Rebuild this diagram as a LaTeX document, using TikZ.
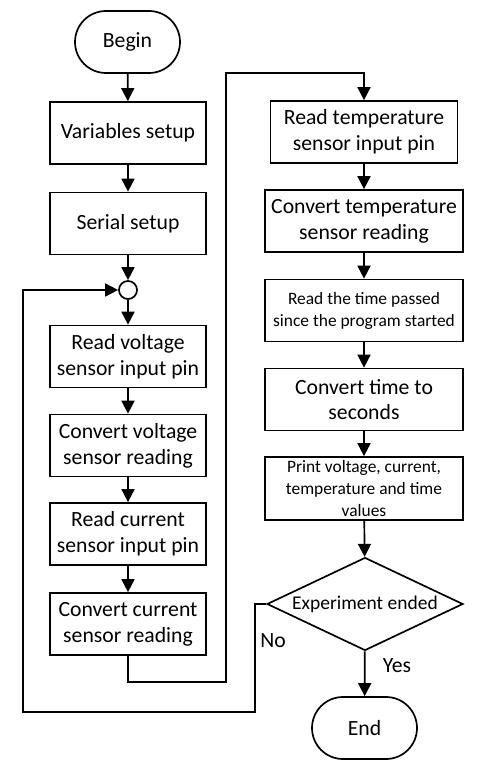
\documentclass[tikz,border=0pt]{standalone}
\usepackage{fontspec}
\setmainfont{Carlito}
\usetikzlibrary{arrows.meta,shapes.geometric}
\tikzset{
	block/.style={draw, line width=1.7pt, minimum width=156pt, minimum height=62pt, inner sep=0pt, align=center, font=\fontsize{21.7}{25.7}\selectfont},
	smallblock/.style={block, font=\fontsize{17.4}{22}\selectfont},
	terminal/.style={draw, line width=1.7pt, rounded corners=31pt, minimum width=105pt, minimum height=62pt, font=\fontsize{21.7}{25.7}\selectfont},
	decision/.style={draw, diamond, shape aspect=2.1, line width=1.7pt, minimum width=196pt, minimum height=93pt, inner sep=0pt, font=\fontsize{19.5}{23}\selectfont},
	joint/.style={draw, circle, line width=1.7pt, minimum size=18pt, inner sep=0pt},
	flow/.style={line width=1.7pt, -{Triangle[length=13pt,width=13pt]}},
	wire/.style={line width=1.7pt},
	lbl/.style={font=\fontsize{21.7}{25.7}\selectfont}
}

\begin{document}
\begin{tikzpicture}[x=1pt, y=-1pt]
			%%%%% START %%%%%
			\useasboundingbox (0, 0) rectangle (485, 775);
			
			\node[terminal] (begin) at (127.5, 42) {Begin};
			\node[block] (vars) at (128, 133) {Variables setup};
			\node[block] (serial) at (128, 223.5) {Serial setup};
			\node[joint] (join) at (128, 290) {};
			
			\node[block] (readv) at (128, 356.5) {Read voltage\\sensor input pin};
			\node[block] (convv) at (128, 445.5) {Convert voltage\\sensor reading};
			\node[block] (readc) at (128, 534) {Read current\\sensor input pin};
			\node[block] (convc) at (128, 624) {Convert current\\sensor reading};
			
			\node[block, minimum width=187pt] (readt) at (364, 132) {Read temperature\\sensor input pin};
			\node[block, minimum width=198pt] (convt) at (364, 221) {Convert temperature\\sensor reading};
			\node[smallblock, minimum width=198pt] (readtime) at (364, 310.5) {Read the time passed\\since the program started};
			\node[block, minimum width=198pt] (convtime) at (364, 399.5) {Convert time to\\seconds};
			\node[smallblock, minimum width=198pt, minimum height=63pt] (print) at (364, 488.5) {Print voltage, current,\\temperature and time\\values};
			
			\node[decision] (decide) at (365, 604) {Experiment ended};
			\node[terminal] (stop) at (364.5, 728) {End};
			
			\node[lbl] (no) at (273, 641) {No};
			\node[lbl] (yes) at (397, 666) {Yes};
			
			\draw[flow] (begin) -- (vars);
			\draw[flow] (vars) -- (serial);
			\draw[flow] (serial) -- (join);
			\draw[flow] (join) -- (readv);
			\draw[flow] (readv) -- (convv);
			\draw[flow] (convv) -- (readc);
			\draw[flow] (readc) -- (convc);
			
			\coordinate (jumpdown) at (226, 682);
			\coordinate (jumpup) at (226, 73);
			\draw[flow] (convc.south) |- (jumpdown) -- (jumpup) -| (readt.north);
			
			\draw[flow] (readt) -- (convt);
			\draw[flow] (convt) -- (readtime);
			\draw[flow] (readtime) -- (convtime);
			\draw[flow] (convtime) -- (print);
			\draw[flow] (print) -- (decide);
			\draw[flow] (decide) -- (stop);
			
			\coordinate (loopdown) at (255, 712);
			\coordinate (loopup) at (23, 290);
			\draw[flow] (decide.west) -| (loopdown) -| (loopup) -- (join.west);
			%%%%% END %%%%%
\end{tikzpicture}
\end{document}
